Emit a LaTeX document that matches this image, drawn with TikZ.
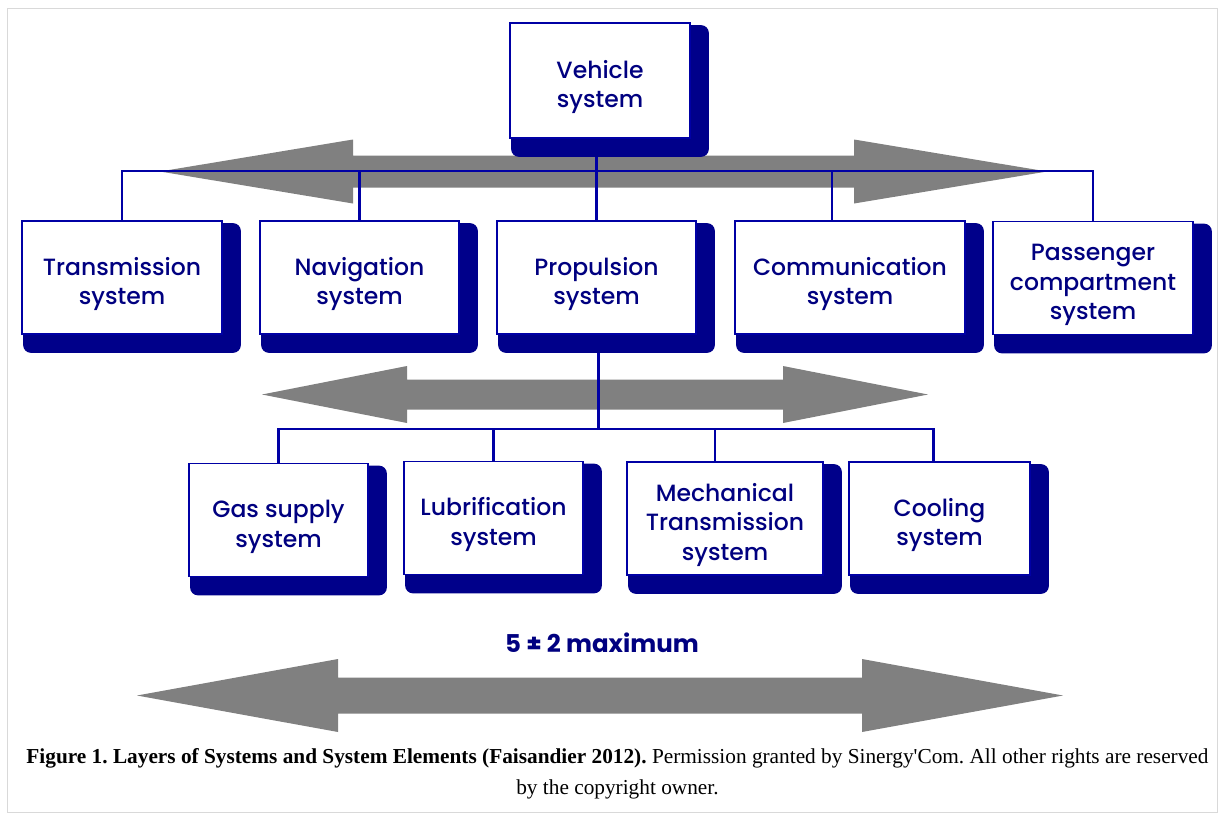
\documentclass[tikz,border=0pt]{standalone}
\usepackage{fontspec}
\usepackage{tikz}
\usetikzlibrary{backgrounds}
\newfontfamily\boxfont{Poppins Medium}
\newfontfamily\notefont{Poppins}
\newfontfamily\capfont{Liberation Serif}
\definecolor{navyink}{RGB}{0,0,128}
\definecolor{navyline}{RGB}{0,0,165}
\definecolor{navyshade}{RGB}{0,0,138}
\definecolor{arrowgray}{RGB}{128,128,128}
\frenchspacing
\newcommand{\hi}{\rule{0pt}{31pt}}% taller first line, text sits lower in the box
% fat double arrow: y, left tip, right tip, shaft half, head half, head length
\newcommand{\fatarrow}[6]{%
  \fill[arrowgray] (#2,#1) -- (#2+#6,#1-#5) -- (#2+#6,#1-#4) -- (#3-#6,#1-#4)
    -- (#3-#6,#1-#5) -- (#3,#1) -- (#3-#6,#1+#5) -- (#3-#6,#1+#4)
    -- (#2+#6,#1+#4) -- (#2+#6,#1+#5) -- cycle;}

\begin{document}
\begin{tikzpicture}[x=1pt,y=-1pt,
  sysbox/.style={draw=navyline,line width=1.8pt,fill=white,inner sep=0pt,align=center,
                 font=\boxfont\fontsize{23.5}{29.5}\selectfont,text=navyink,minimum height=113pt},
  link/.style={draw=navyline,line width=2.4pt},
  shade/.style={fill=navyshade,rounded corners=8pt}
]
\useasboundingbox (0,0) rectangle (1223,817);
\draw[gray!30,line width=1pt] (7,8) rectangle (1217,812);

% top level
\node[sysbox,minimum width=180pt,minimum height=115pt] (veh) at (600,80.5) {\hi Vehicle\\system};

% first layer
\node[sysbox,minimum width=200pt] (trans) at (122,277.5) {\hi Transmission\\system};
\node[sysbox,minimum width=199pt] (nav) at (359.5,277.5) {\hi Navigation\\system};
\node[sysbox,minimum width=199pt] (prop) at (596.5,277.5) {\hi Propulsion\\system};
\node[sysbox,minimum width=230pt] (comm) at (850,277.5) {\hi Communication\\system};
\node[sysbox,minimum width=200pt] (pass) at (1093,278) {\hi Passenger\\compartment\\system};

% second layer
\node[sysbox,minimum width=179pt] (gas) at (278.5,520) {\hi Gas supply\\system};
\node[sysbox,minimum width=179pt] (lub) at (493.5,518) {\hi Lubrification\\system};
\node[sysbox,minimum width=196pt] (mech) at (725,518.5) {\hi Mechanical\\Transmission\\system};
\node[sysbox,minimum width=181pt] (cool) at (939.5,518.5) {\hi Cooling\\system};

\node[text=navyink,font=\notefont\bfseries\fontsize{24.5}{28}\selectfont] (rule) at (602,643) {5 ± 2 maximum};

\node[align=center,font=\capfont\fontsize{21.3}{31}\selectfont] (caption) at (617.5,774)
  {{\bfseries Figure 1. Layers of Systems and System Elements (Faisandier 2012).} Permission granted by Sinergy'Com. All other rights are reserved\\
   by the copyright owner.};

\begin{scope}[on background layer]
\fatarrow{171.5}{160}{1047}{16}{32}{193}
\fatarrow{394.5}{262}{928}{15}{28.5}{145}
\fatarrow{695.5}{137}{1063}{18}{36.5}{201}

\coordinate (bus1) at (0,171);
\coordinate (bus2) at (0,429);

\draw[link] (veh.south -| prop.north) -- (prop.north);
\draw[link] (trans.north) -- (trans.north |- bus1) -- (pass.north |- bus1) -- (pass.north);
\draw[link] (nav.north) -- (nav.north |- bus1);
\draw[link] ([xshift=-18pt]comm.north) -- ([xshift=-18pt]comm.north |- bus1);

\draw[link] ([xshift=2pt]prop.south) -- ([xshift=2pt]prop.south |- bus2);
\draw[link] (gas.north) -- (gas.north |- bus2) -- ([xshift=-6pt]cool.north |- bus2) -- ([xshift=-6pt]cool.north);
\draw[link] (lub.north) -- (lub.north |- bus2);
\draw[link] ([xshift=-10pt]mech.north) -- ([xshift=-10pt]mech.north |- bus2);

\foreach \n in {veh,trans,nav,prop,comm,pass,gas,lub,mech,cool}
  \fill[shade] ([shift={(2,3)}]\n.north west) rectangle ([shift={(18,18)}]\n.south east);
\end{scope}
\end{tikzpicture}
\end{document}
